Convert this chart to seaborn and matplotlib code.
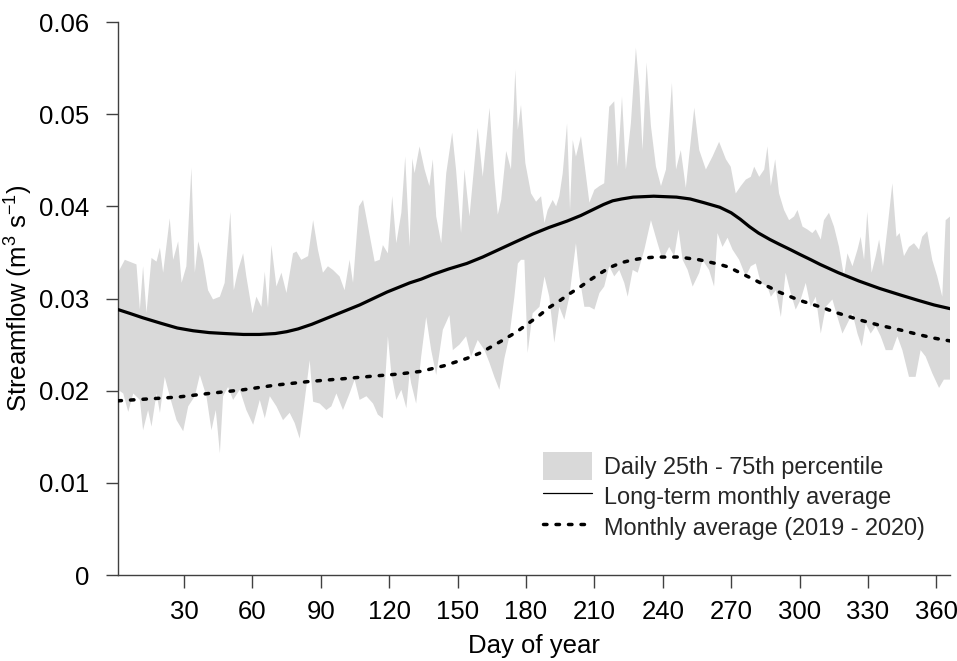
import numpy as np
import matplotlib
matplotlib.use("Agg")
import matplotlib.pyplot as plt
import seaborn as sns
from matplotlib.patches import Patch
from matplotlib.lines import Line2D

# ---------------- data ----------------
upper_days = [1, 4.0, 9.1, 10.6, 12.0, 13.5, 15.7, 17.9, 19.4, 20.8,
              23.7, 25.2, 27.4, 28.9, 31.0, 33.2, 34.7, 36.2, 38.3, 40.5,
              42.7, 45.7, 47.8, 50.3, 51.8, 53.7, 55.9, 57.3, 60.0, 61.7,
              63.9, 65.4, 66.8, 68.3, 70.5, 72.7, 74.9, 77.8, 79.3, 81.4,
              84.4, 86.6, 88.7, 90.9, 93.1, 95.3, 98.2, 100.4, 102.6, 104.1,
              106.7, 108.5, 110.7, 113.6, 115.8, 117.2, 119.4, 121.3, 123.1, 125.3,
              127.0, 128.9,
              130.1, 131.1, 133.3, 135.5, 137.6, 139.1, 140.6, 142.8, 145.0, 147.6,
              149.3, 151.5, 153.0, 155.2, 158.8, 161.0, 164.0, 166.1, 167.6, 169.1,
              171.3, 173.4, 175.3, 176.4, 177.8, 179.7, 182.2, 184.4, 186.6, 188.1,
              189.5, 191.7, 193.2, 194.6, 196.1, 198.0, 199.3, 200.5, 201.9, 204.1,
              205.6, 207.8, 210.0, 212.2, 214.3, 216.5, 218.7, 220.2, 222.1, 223.8,
              226.0, 228.2, 229.7, 231.1, 232.9, 234.8, 237.0, 239.2, 241.4, 244.0,
              245.8, 247.9, 250.1, 252.3, 253.8, 256.0,
              258.9, 261.8, 264.7, 267.7, 269.8, 272.0, 274.2, 276.4, 278.6, 280.1,
              282.3, 284.5, 285.9, 287.4, 289.3, 291.0, 293.2, 295.4, 297.6, 299.1,
              301.3, 303.4, 305.6, 307.1, 309.3, 310.7, 312.9, 315.1, 317.3, 319.5,
              321.0, 323.2, 325.4, 326.8, 328.3, 329.7, 331.6, 333.4, 334.9, 336.6,
              338.5, 340.7, 342.5, 343.9, 345.8, 348.0, 350.2, 352.4, 353.8, 356.0,
              358.2, 360.4, 362.6, 364.1, 366]
upper_vals = [0.0328, 0.0342, 0.0337, 0.0288, 0.0335, 0.0284, 0.0344, 0.0340, 0.0355, 0.0328,
              0.0387, 0.0342, 0.0362, 0.0317, 0.0335, 0.0442, 0.0328, 0.0362, 0.0342, 0.0309,
              0.0299, 0.0302, 0.0317, 0.0394, 0.0309, 0.0331, 0.0349, 0.0324, 0.0284, 0.0302,
              0.0291, 0.0329, 0.0290, 0.0358, 0.0313, 0.0328, 0.0306, 0.0349, 0.0351, 0.0342,
              0.0346, 0.0385, 0.0353, 0.0328, 0.0335, 0.0331, 0.0324, 0.0309, 0.0342, 0.0317,
              0.0400, 0.0407, 0.0378, 0.0340, 0.0342, 0.0358, 0.0349, 0.0411, 0.0360, 0.0393,
              0.0454, 0.0356,
              0.0452, 0.0436, 0.0465, 0.0440, 0.0422, 0.0451, 0.0389, 0.0360, 0.0436, 0.0480,
              0.0440, 0.0371, 0.0440, 0.0389, 0.0485, 0.0432, 0.0507, 0.0432, 0.0391, 0.0407,
              0.0460, 0.0440, 0.0548, 0.0483, 0.0510, 0.0447, 0.0414, 0.0405, 0.0411, 0.0382,
              0.0396, 0.0407, 0.0400, 0.0411, 0.0436, 0.0490, 0.0396, 0.0472, 0.0454, 0.0476,
              0.0447, 0.0404, 0.0418, 0.0422, 0.0425, 0.0508, 0.0514, 0.0443, 0.0519, 0.0440,
              0.0490, 0.0572, 0.0530, 0.0461, 0.0556, 0.0487, 0.0443, 0.0422, 0.0440, 0.0534,
              0.0440, 0.0461, 0.0420, 0.0472, 0.0507, 0.0461,
              0.0440, 0.0454, 0.0470, 0.0451, 0.0443, 0.0414, 0.0422, 0.0429, 0.0432, 0.0443,
              0.0432, 0.0440, 0.0465, 0.0422, 0.0451, 0.0414, 0.0396, 0.0385, 0.0389, 0.0396,
              0.0378, 0.0375, 0.0371, 0.0375, 0.0364, 0.0385, 0.0393, 0.0378, 0.0356, 0.0324,
              0.0349, 0.0335, 0.0353, 0.0367, 0.0342, 0.0394, 0.0328, 0.0346, 0.0364, 0.0335,
              0.0375, 0.0425, 0.0367, 0.0371, 0.0346, 0.0356, 0.0360, 0.0353, 0.0367, 0.0373,
              0.0342, 0.0324, 0.0302, 0.0385, 0.0389]

lower_days = [1, 3.3, 5.5, 7.7, 10.6, 12.0, 14.2, 15.7, 17.9, 19.4,
              21.5, 23.7, 26.7, 29.6, 31.8, 34.7, 36.9, 39.8, 42.0, 43.9,
              45.7, 47.1, 49.3, 51.5, 54.4, 57.3, 60.3, 63.2, 65.4, 67.6,
              70.5, 73.4, 76.3, 78.5, 80.7, 82.2, 85.1, 86.6, 89.5, 92.4,
              94.6, 96.8, 99.7, 102.6, 104.8, 107.0, 110.0, 112.9, 115.0, 117.2,
              119.4, 120.9, 123.1, 125.3, 127.5, 128.9,
              129.6, 131.8, 134.0, 136.2, 138.4, 140.6, 143.5, 146.4, 147.9, 150.8,
              153.7, 155.9, 158.8, 161.8, 164.0, 166.1, 168.3, 170.5, 172.7, 174.9,
              176.4, 177.8, 179.3, 180.7, 182.9, 185.9, 188.1, 190.2, 192.4, 194.6,
              196.8, 199.0, 201.9, 203.4, 205.6, 207.8, 210.0, 212.2, 214.3, 216.5,
              218.7, 220.9, 223.1, 224.6, 226.8, 229.0, 231.9, 234.8, 237.7, 239.9,
              242.8, 245.0, 246.9, 248.7, 250.9, 253.1, 256.0,
              257.4, 260.3, 262.5, 264.0, 266.2, 268.4, 270.6, 273.5, 276.4, 278.6,
              280.8, 283.0, 285.9, 287.4, 289.6, 291.8, 293.9, 296.1, 298.3, 300.5,
              302.7, 304.9, 307.1, 309.3, 311.5, 314.4, 316.6, 318.8, 321.0, 323.2,
              325.4, 327.3, 329.0, 331.2, 333.4, 335.6, 337.8, 340.7, 342.9, 345.1,
              348.0, 350.9, 353.1, 355.3, 358.2, 361.2, 363.3, 366]
lower_vals = [0.0201, 0.0197, 0.0177, 0.0197, 0.0190, 0.0157, 0.0179, 0.0161, 0.0197, 0.0176,
              0.0215, 0.0194, 0.0168, 0.0156, 0.0183, 0.0194, 0.0217, 0.0194, 0.0157, 0.0179,
              0.0132, 0.0194, 0.0204, 0.0190, 0.0201, 0.0179, 0.0163, 0.0190, 0.0170, 0.0194,
              0.0183, 0.0168, 0.0176, 0.0165, 0.0148, 0.0176, 0.0233, 0.0188, 0.0186, 0.0179,
              0.0183, 0.0197, 0.0179, 0.0197, 0.0212, 0.0190, 0.0194, 0.0186, 0.0174, 0.0170,
              0.0259, 0.0219, 0.0190, 0.0201, 0.0181, 0.0219,
              0.0208, 0.0186, 0.0237, 0.0280, 0.0244, 0.0217, 0.0266, 0.0282, 0.0244, 0.0250,
              0.0259, 0.0237, 0.0255, 0.0244, 0.0230, 0.0215, 0.0201, 0.0235, 0.0259, 0.0302,
              0.0338, 0.0342, 0.0342, 0.0241, 0.0284, 0.0291, 0.0324, 0.0302, 0.0252, 0.0291,
              0.0277, 0.0302, 0.0360, 0.0324, 0.0291, 0.0291, 0.0288, 0.0306, 0.0313, 0.0335,
              0.0324, 0.0331, 0.0317, 0.0302, 0.0331, 0.0328, 0.0353, 0.0385, 0.0360, 0.0342,
              0.0356, 0.0346, 0.0375, 0.0342, 0.0331, 0.0313, 0.0328,
              0.0342, 0.0331, 0.0313, 0.0371, 0.0356, 0.0366, 0.0353, 0.0342, 0.0324, 0.0335,
              0.0338, 0.0317, 0.0313, 0.0302, 0.0309, 0.0280, 0.0328, 0.0306, 0.0288, 0.0299,
              0.0317, 0.0291, 0.0302, 0.0262, 0.0291, 0.0299, 0.0280, 0.0262, 0.0273, 0.0284,
              0.0262, 0.0248, 0.0273, 0.0262, 0.0270, 0.0259, 0.0244, 0.0244, 0.0259, 0.0244,
              0.0215, 0.0215, 0.0244, 0.0237, 0.0219, 0.0203, 0.0212, 0.0212]

longterm_days = [1, 6, 12, 20, 27, 34, 41, 48, 56, 63, 70, 75, 80, 86, 92, 100, 107,
                 113, 119, 124, 129, 134, 139, 146, 154, 161, 168, 175, 183, 190, 198,
                 204, 209, 214, 218, 222, 227, 236, 246, 252, 258, 265, 270, 274, 278,
                 282, 287, 291, 296, 300, 305, 309, 317, 326, 335, 344, 352, 359, 366]
longterm_vals = [0.0288, 0.0284, 0.0279, 0.0273, 0.0268, 0.0265, 0.0263, 0.0262, 0.0261,
                 0.0261, 0.0262, 0.0264, 0.0267, 0.0272, 0.0278, 0.0286, 0.0293, 0.0300,
                 0.0307, 0.0312, 0.0317, 0.0321, 0.0326, 0.0332, 0.0338, 0.0345, 0.0353,
                 0.0361, 0.0370, 0.0377, 0.0384, 0.0390, 0.0396, 0.0402, 0.0406, 0.0408,
                 0.0410, 0.0411, 0.0410, 0.0408, 0.0404, 0.0399, 0.0393, 0.0386, 0.0378,
                 0.0371, 0.0364, 0.0359, 0.0353, 0.0348, 0.0342, 0.0337, 0.0328, 0.0319,
                 0.0311, 0.0304, 0.0298, 0.0293, 0.0289]

recent_days = [1, 14, 27, 41, 56, 70, 85, 100, 114, 124, 134, 144, 154, 160, 165, 170,
               176, 181, 186, 190, 195, 199, 204, 208, 213, 217, 222, 227, 232, 237, 247,
               256, 265, 269, 273, 278, 282, 287, 291, 296, 300, 309, 317, 326, 335, 344,
               352, 359, 366]
recent_vals = [0.0189, 0.0191, 0.0193, 0.0197, 0.0201, 0.0206, 0.0210, 0.0213, 0.0216,
               0.0218, 0.0221, 0.0227, 0.0235, 0.0241, 0.0248, 0.0255, 0.0264, 0.0273,
               0.0282, 0.0290, 0.0298, 0.0305, 0.0313, 0.0320, 0.0328, 0.0334, 0.0339,
               0.0342, 0.0344, 0.0345, 0.0345, 0.0342, 0.0337, 0.0334, 0.0329, 0.0323,
               0.0318, 0.0312, 0.0307, 0.0302, 0.0298, 0.0291, 0.0284, 0.0277, 0.0271,
               0.0266, 0.0261, 0.0257, 0.0254]

x_ticks = [30, 60, 90, 120, 150, 180, 210, 240, 270, 300, 330, 360]
y_ticks = [0, 0.01, 0.02, 0.03, 0.04, 0.05, 0.06]
y_tick_labels = ["0", "0.01", "0.02", "0.03", "0.04", "0.05", "0.06"]
legend_labels = ["Daily 25th - 75th percentile", "Long-term monthly average",
                 "Monthly average (2019 - 2020)"]

# ---------------- drawing ----------------
sns.set_theme(style="ticks")
plt.rcParams['font.family'] = ['Liberation Sans', 'DejaVu Sans']

band_color = '#d9d9d9'
axis_color = '#404040'

fig = plt.figure(figsize=(9.57, 6.61), dpi=100)
ax = fig.add_axes([0.1233, 0.1301, 0.8694, 0.8366])

ax.fill(np.concatenate([upper_days, lower_days[::-1]]),
        np.concatenate([upper_vals, lower_vals[::-1]]),
        color=band_color, lw=0, zorder=1)
sns.lineplot(x=longterm_days, y=longterm_vals, ax=ax, color='black', lw=2.3, zorder=3)
sns.lineplot(x=recent_days, y=recent_vals, ax=ax, color='black', lw=2.5,
             linestyle=(0, (1.0, 2.6)), dash_capstyle='round', zorder=3)

ax.set_xlim(1, 366)
ax.set_ylim(0, 0.06)
ax.set_xticks(x_ticks)
ax.set_yticks(y_ticks, labels=y_tick_labels)
ax.tick_params(direction='out', length=9, width=1, color=axis_color,
               labelsize=18.5, labelcolor='black')
ax.tick_params(axis='x', pad=9)
ax.tick_params(axis='y', pad=11.5)
sns.despine(ax=ax)
for s in ('left', 'bottom'):
    ax.spines[s].set_color(axis_color)
    ax.spines[s].set_linewidth(1.0)

ax.set_xlabel('Day of year', fontsize=18.5, labelpad=7.5, color='black')
ax.set_ylabel(r'Streamflow (m$\mathregular{^{3}}$ s$\mathregular{^{-1}}$)',
              fontsize=18.5, labelpad=3, color='black')

handles = [Patch(facecolor=band_color, edgecolor='none'),
           Line2D([], [], color='black', lw=0.9),
           Line2D([], [], color='black', lw=2.5, linestyle=(0, (1.0, 2.6)),
                  dash_capstyle='round')]
ax.legend(handles, legend_labels, loc='upper left', bbox_to_anchor=(0.511, 0.2226),
          frameon=False, fontsize=16.9, borderpad=0, borderaxespad=0,
          handlelength=2.09, handleheight=1.457, handletextpad=0.51, labelspacing=0.106)

fig.savefig('out.png', dpi=100)
